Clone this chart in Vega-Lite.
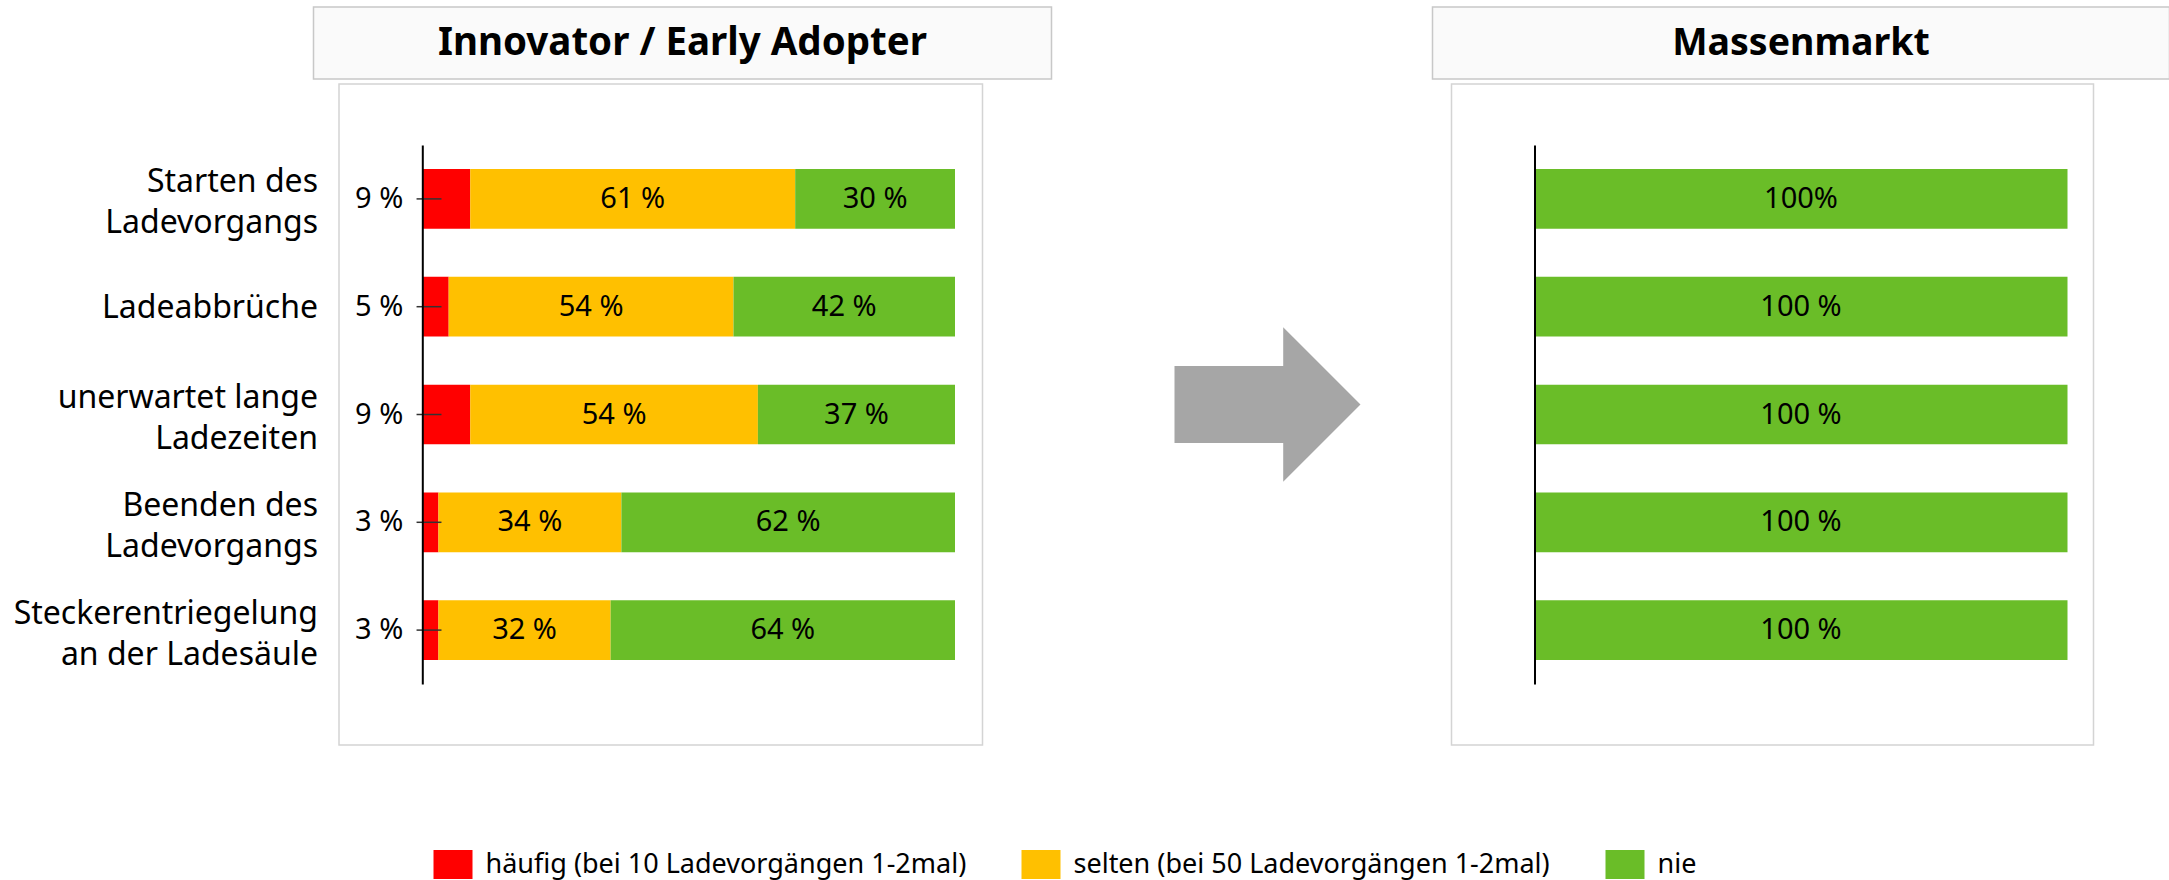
{
  "$schema": "https://vega.github.io/schema/vega-lite/v6.json",
  "padding": {"left": 12.5, "top": 6, "right": 0, "bottom": 6},
  "background": "white",
  "config": {"font": "Noto Sans", "view": {"stroke": null}},
  "datasets": {
    "inno": [
      {"task": "Starten des Ladevorgangs", "cat": "häufig (bei 10 Ladevorgängen 1-2mal)", "k": 1, "pct": 9, "txt": "9 %"},
      {"task": "Starten des Ladevorgangs", "cat": "selten (bei 50 Ladevorgängen 1-2mal)", "k": 2, "pct": 61, "txt": "61 %"},
      {"task": "Starten des Ladevorgangs", "cat": "nie", "k": 3, "pct": 30, "txt": "30 %"},
      {"task": "Ladeabbrüche", "cat": "häufig (bei 10 Ladevorgängen 1-2mal)", "k": 1, "pct": 5, "txt": "5 %"},
      {"task": "Ladeabbrüche", "cat": "selten (bei 50 Ladevorgängen 1-2mal)", "k": 2, "pct": 54, "txt": "54 %"},
      {"task": "Ladeabbrüche", "cat": "nie", "k": 3, "pct": 42, "txt": "42 %"},
      {"task": "unerwartet lange Ladezeiten", "cat": "häufig (bei 10 Ladevorgängen 1-2mal)", "k": 1, "pct": 9, "txt": "9 %"},
      {"task": "unerwartet lange Ladezeiten", "cat": "selten (bei 50 Ladevorgängen 1-2mal)", "k": 2, "pct": 54, "txt": "54 %"},
      {"task": "unerwartet lange Ladezeiten", "cat": "nie", "k": 3, "pct": 37, "txt": "37 %"},
      {"task": "Beenden des Ladevorgangs", "cat": "häufig (bei 10 Ladevorgängen 1-2mal)", "k": 1, "pct": 3, "txt": "3 %"},
      {"task": "Beenden des Ladevorgangs", "cat": "selten (bei 50 Ladevorgängen 1-2mal)", "k": 2, "pct": 34, "txt": "34 %"},
      {"task": "Beenden des Ladevorgangs", "cat": "nie", "k": 3, "pct": 62, "txt": "62 %"},
      {"task": "Steckerentriegelung an der Ladesäule", "cat": "häufig (bei 10 Ladevorgängen 1-2mal)", "k": 1, "pct": 3, "txt": "3 %"},
      {"task": "Steckerentriegelung an der Ladesäule", "cat": "selten (bei 50 Ladevorgängen 1-2mal)", "k": 2, "pct": 32, "txt": "32 %"},
      {"task": "Steckerentriegelung an der Ladesäule", "cat": "nie", "k": 3, "pct": 64, "txt": "64 %"}
    ],
    "mass": [
      {"task": "Starten des Ladevorgangs", "cat": "nie", "k": 3, "pct": 100, "txt": "100%"},
      {"task": "Ladeabbrüche", "cat": "nie", "k": 3, "pct": 100, "txt": "100 %"},
      {"task": "unerwartet lange Ladezeiten", "cat": "nie", "k": 3, "pct": 100, "txt": "100 %"},
      {"task": "Beenden des Ladevorgangs", "cat": "nie", "k": 3, "pct": 100, "txt": "100 %"},
      {"task": "Steckerentriegelung an der Ladesäule", "cat": "nie", "k": 3, "pct": 100, "txt": "100 %"}
    ]
  },
  "columns": 3,
  "spacing": {"row": 5, "column": 10},
  "bounds": "flush",
  "align": "each",
  "resolve": {"scale": {"x": "independent", "y": "independent"}},
  "concat": [
    {
      "width": 738, "height": 72,
      "view": {"fill": "#FAFAFA", "stroke": "#C8C8C8", "strokeWidth": 1.5},
      "data": {"values": [{"t": "Innovator / Early Adopter"}]},
      "mark": {"type": "text", "fontSize": 38.5, "fontWeight": "bold", "baseline": "alphabetic", "dy": 12, "color": "#000000"},
      "encoding": {"text": {"field": "t", "type": "nominal"}}
    },
    {
      "width": 361, "height": 72,
      "data": {"values": [{}]},
      "mark": {"type": "text"},
      "encoding": {"text": {"value": ""}}
    },
    {
      "width": 737, "height": 72,
      "view": {"fill": "#FAFAFA", "stroke": "#C8C8C8", "strokeWidth": 1.5},
      "data": {"values": [{"t": "Massenmarkt"}]},
      "mark": {"type": "text", "fontSize": 37.5, "fontWeight": "bold", "baseline": "alphabetic", "dy": 12, "color": "#000000"},
      "encoding": {"text": {"field": "t", "type": "nominal"}}
    },
    {
      "width": 669, "height": 661,
      "data": {"name": "inno"},
      "layer": [
        {
          "data": {"values": [{}]},
          "mark": {"type": "rect", "fill": "white", "stroke": "#D4D4D4", "strokeWidth": 1.5},
          "encoding": {
            "x": {"datum": -0.15637, "type": "quantitative", "scale": {"domain": [-0.20424, 1.05163], "nice": false, "zero": false}, "axis": null},
            "x2": {"datum": 1.05163}
          }
        },
        {
          "mark": {"type": "bar"},
          "encoding": {
            "y": {"field": "task", "type": "nominal", "sort": null,
              "scale": {"range": [61, 600], "paddingInner": 0.446, "paddingOuter": 0.223},
              "axis": {"title": null, "orient": "left", "offset": -108.8, "zindex": 2, "domainColor": "#000000", "domainWidth": 2,
                "ticks": false, "tickSize": 0, "labelPadding": 104.8, "labelFontSize": 32, "labelFont": "Noto Sans",
                "labelColor": "#000000", "labelLimit": 400, "labelLineHeight": 41, "labelBaseline": "middle",
                "labelOffset": {"condition": {"test": "datum.label == 'Ladeabbrüche'", "value": 1.5}, "value": -16.5},
                "labelExpr": "datum.label == 'Starten des Ladevorgangs' ? ['Starten des', 'Ladevorgangs'] : datum.label == 'unerwartet lange Ladezeiten' ? ['unerwartet lange', 'Ladezeiten'] : datum.label == 'Beenden des Ladevorgangs' ? ['Beenden des', 'Ladevorgangs'] : datum.label == 'Steckerentriegelung an der Ladesäule' ? ['Steckerentriegelung', 'an der Ladesäule'] : datum.label"}},
            "x": {"field": "pct", "type": "quantitative", "stack": "normalize", "scale": {"domain": [-0.20424, 1.05163], "nice": false, "zero": false}, "axis": null},
            "color": {"field": "cat", "type": "nominal",
              "scale": {"domain": ["häufig (bei 10 Ladevorgängen 1-2mal)", "selten (bei 50 Ladevorgängen 1-2mal)", "nie"], "range": ["#FF0000", "#FFC000", "#6ABD28"]},
              "legend": {"title": null, "orient": "none", "legendX": 120, "legendY": 838, "direction": "horizontal",
                "symbolType": "M-1,-0.74L1,-0.74L1,0.74L-1,0.74Z", "symbolSize": 1521, "symbolStrokeWidth": 0, "symbolOpacity": 1,
                "labelFontSize": 27, "labelFont": "Noto Sans", "labelColor": "#000000", "labelLimit": 700, "labelOffset": 13, "columnPadding": 55}},
            "order": {"field": "k", "type": "quantitative"}
          }
        },
        {
          "transform": [{"filter": "datum.k == 1"}],
          "mark": {"type": "rule", "color": "#333333", "strokeWidth": 1.5},
          "encoding": {
            "y": {"field": "task", "type": "nominal", "sort": null},
            "x": {"datum": -0.0108, "type": "quantitative", "scale": {"domain": [-0.20424, 1.05163], "nice": false, "zero": false}, "axis": null},
            "x2": {"datum": 0.036}
          }
        },
        {
          "mark": {"type": "text", "fontSize": 29, "baseline": "middle", "color": "#000000"},
          "encoding": {
            "y": {"field": "task", "type": "nominal", "sort": null},
            "x": {"field": "pct", "type": "quantitative", "stack": "normalize", "bandPosition": 0.5, "scale": {"domain": [-0.20424, 1.05163], "nice": false, "zero": false}, "axis": null},
            "detail": {"field": "cat", "type": "nominal"},
            "order": {"field": "k", "type": "quantitative"},
            "text": {"field": "txt", "type": "nominal", "condition": {"test": "datum.k == 1", "value": ""}}
          }
        },
        {
          "transform": [{"filter": "datum.k == 1"}],
          "mark": {"type": "text", "fontSize": 29, "baseline": "middle", "align": "right", "dx": -19, "color": "#000000"},
          "encoding": {
            "y": {"field": "task", "type": "nominal", "sort": null},
            "x": {"datum": 0, "type": "quantitative", "scale": {"domain": [-0.20424, 1.05163], "nice": false, "zero": false}, "axis": null},
            "text": {"field": "txt", "type": "nominal"}
          }
        }
      ]
    },
    {
      "width": 361, "height": 661,
      "data": {"values": [{}]},
      "mark": {"type": "point", "shape": "M-1,-0.415L0.169,-0.415L0.169,-0.83L1,0L0.169,0.83L0.169,0.415L-1,0.415Z", "size": 34596, "filled": true, "color": "#A6A6A6", "opacity": 1, "strokeWidth": 0, "xOffset": 25.5, "yOffset": -10},
      "encoding": {}
    },
    {
      "width": 661, "height": 661,
      "data": {"name": "mass"},
      "layer": [
        {
          "data": {"values": [{}]},
          "mark": {"type": "rect", "fill": "white", "stroke": "#D4D4D4", "strokeWidth": 1.5},
          "encoding": {
            "x": {"datum": -0.15572, "type": "quantitative", "scale": {"domain": [-0.19137, 1.04878], "nice": false, "zero": false}, "axis": null},
            "x2": {"datum": 1.04878}
          }
        },
        {
          "mark": {"type": "bar"},
          "encoding": {
            "y": {"field": "task", "type": "nominal", "sort": null,
              "scale": {"range": [61, 600], "paddingInner": 0.446, "paddingOuter": 0.223},
              "axis": {"title": null, "orient": "left", "offset": -102, "zindex": 2, "domainColor": "#000000", "domainWidth": 2,
                "ticks": false, "tickSize": 0, "labels": false}},
            "x": {"field": "pct", "type": "quantitative", "stack": "normalize", "scale": {"domain": [-0.19137, 1.04878], "nice": false, "zero": false}, "axis": null},
            "color": {"field": "cat", "type": "nominal",
              "scale": {"domain": ["häufig (bei 10 Ladevorgängen 1-2mal)", "selten (bei 50 Ladevorgängen 1-2mal)", "nie"], "range": ["#FF0000", "#FFC000", "#6ABD28"]},
              "legend": {"title": null, "orient": "none", "legendX": 120, "legendY": 838, "direction": "horizontal",
                "symbolType": "M-1,-0.74L1,-0.74L1,0.74L-1,0.74Z", "symbolSize": 1521, "symbolStrokeWidth": 0, "symbolOpacity": 1,
                "labelFontSize": 27, "labelFont": "Noto Sans", "labelColor": "#000000", "labelLimit": 700, "labelOffset": 13, "columnPadding": 55}},
            "order": {"field": "k", "type": "quantitative"}
          }
        },
        {
          "mark": {"type": "text", "fontSize": 29, "baseline": "middle", "color": "#000000"},
          "encoding": {
            "y": {"field": "task", "type": "nominal", "sort": null},
            "x": {"field": "pct", "type": "quantitative", "stack": "normalize", "bandPosition": 0.5, "scale": {"domain": [-0.19137, 1.04878], "nice": false, "zero": false}, "axis": null},
            "detail": {"field": "cat", "type": "nominal"},
            "order": {"field": "k", "type": "quantitative"},
            "text": {"field": "txt", "type": "nominal"}
          }
        }
      ]
    }
  ]
}
